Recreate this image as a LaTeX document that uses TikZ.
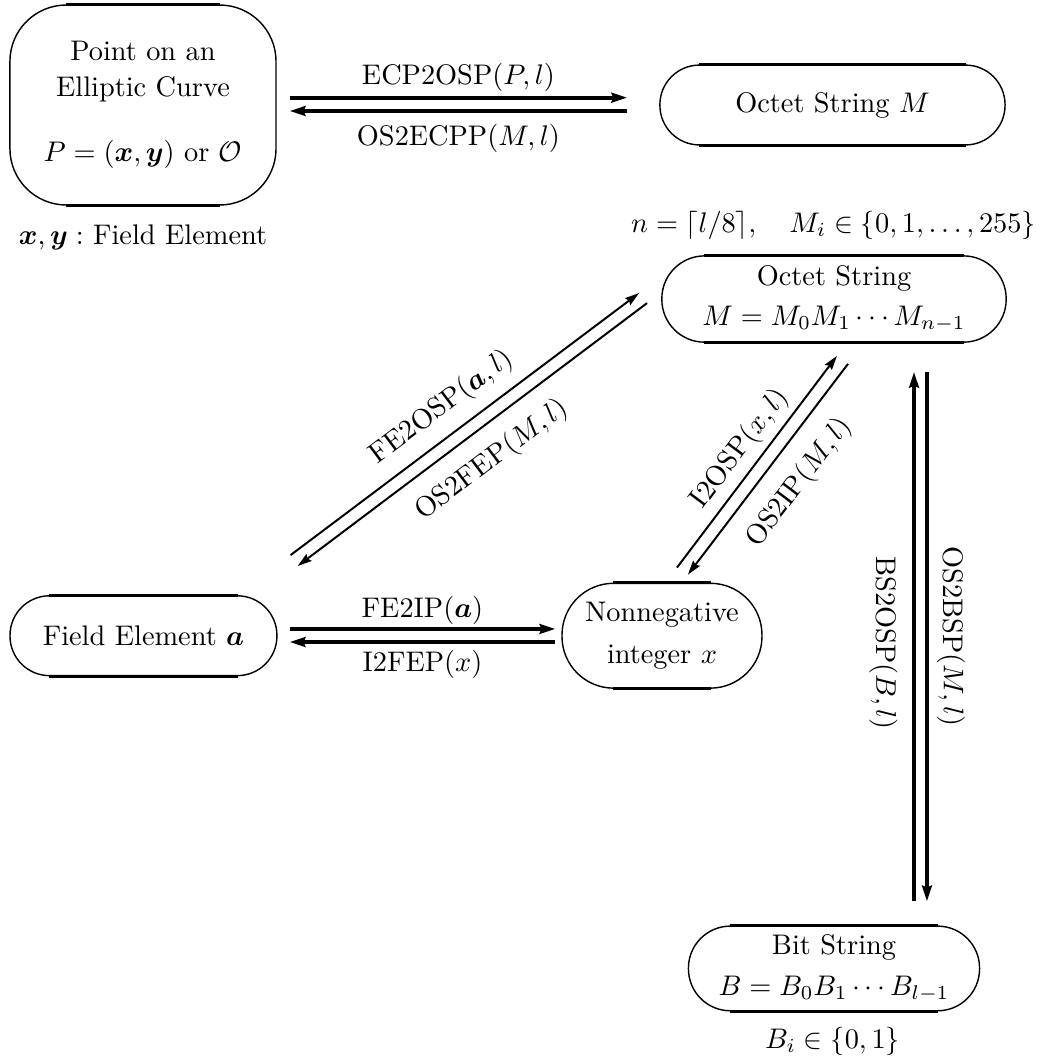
\documentclass[tikz,border=0pt]{standalone}
\usepackage{amsmath}
\usetikzlibrary{arrows.meta}

\begin{document}
\begin{tikzpicture}[
  box/.style={draw,line width=0.5pt,align=center,inner sep=0pt},
  fatarr/.style={line width=1.3pt,>={Stealth[length=5.5pt,width=3.4pt,inset=0.6pt]}},
  thinarr/.style={line width=0.7pt,>={Stealth[length=5pt,width=3pt,inset=0.6pt]}},
  lbl/.style={inner sep=1.5pt}
]

  \useasboundingbox (0,0) rectangle (12.884,-13.132);

  % Boxes
  \node[box,minimum width=3.30cm,minimum height=2.48cm,rounded corners=0.70cm]
    (pt) at (1.773,-1.302)
    {Point on an\\[0.4pt] Elliptic Curve\\[11pt] $P=(\boldsymbol{x},\boldsymbol{y})$ or $\mathcal{O}$};
  \node[box,minimum width=4.28cm,minimum height=0.99cm,rounded corners=0.49cm]
    (os1) at (10.323,-1.302) {Octet String $M$};
  \node[box,minimum width=4.27cm,minimum height=1.07cm,rounded corners=0.53cm]
    (os2) at (10.342,-3.708) {Octet String\\[2.1pt] $M=M_0M_1\cdots M_{n-1}$};
  \node[box,minimum width=3.31cm,minimum height=0.99cm,rounded corners=0.49cm]
    (fe) at (1.779,-7.883) {Field Element $\boldsymbol{a}$};
  \node[box,minimum width=2.48cm,minimum height=1.30cm,rounded corners=0.64cm]
    (ni) at (8.209,-7.883) {Nonnegative\\[2.8pt] integer $x$};
  \node[box,minimum width=3.61cm,minimum height=1.05cm,rounded corners=0.52cm]
    (bs) at (10.342,-12.009) {Bit String\\[2.5pt] $B=B_0B_1\cdots B_{l-1}$};

  % Thick straight edges of the ovals
  \foreach \n/\rad in {pt/0.70,os1/0.49,os2/0.53,fe/0.49,ni/0.64,bs/0.52}{
    \draw[line width=1pt] ([xshift=\rad cm]\n.north west) -- ([xshift=-\rad cm]\n.north east);
    \draw[line width=1pt] ([xshift=\rad cm]\n.south west) -- ([xshift=-\rad cm]\n.south east);
  }

  % Notes
  \node (xy) at (1.773,-2.94) {$\boldsymbol{x},\boldsymbol{y}:$ Field Element};
  \node (nm) at (10.335,-2.796) {$n=\lceil l/8\rceil,\quad M_i\in\{0,1,\ldots,255\}$};
  \node (bi) at (10.323,-12.908) {$B_i\in\{0,1\}$};

  % Point <-> Octet String
  \draw[fatarr,->] ([shift={(0.161,0.091)}]pt.east) -- ([shift={(-0.397,0.091)}]os1.west)
    node[lbl,midway,above] {ECP2OSP$(P,l)$};
  \draw[fatarr,<-] ([shift={(0.161,-0.074)}]pt.east) -- ([shift={(-0.397,-0.074)}]os1.west)
    node[lbl,midway,below=2.4pt] {OS2ECPP$(M,l)$};

  % Field Element <-> Integer
  \draw[fatarr,->] ([shift={(0.149,0.084)}]fe.east) -- ([shift={(-0.074,0.084)}]ni.west)
    node[lbl,midway,above=-0.5pt] {FE2IP$(\boldsymbol{a})$};
  \draw[fatarr,<-] ([shift={(0.149,-0.078)}]fe.east) -- ([shift={(-0.074,-0.078)}]ni.west)
    node[lbl,midway,below=0.6pt] {I2FEP$(x)$};

  % Field Element <-> Octet String
  \draw[thinarr,->] ([shift={(0.161,0.496)}]fe.north east) -- ([shift={(-0.273,0.074)}]os2.west)
    node[lbl,pos=0.48,sloped,above=2.8pt] {FE2OSP$(\boldsymbol{a},l)$};
  \draw[thinarr,<-] ([shift={(0.248,0.360)}]fe.north east) -- ([shift={(-0.174,-0.050)}]os2.west)
    node[lbl,midway,sloped,below=4.5pt] {OS2FEP$(M,l)$};

  % Integer <-> Octet String
  \draw[thinarr,->] ([shift={(0.186,0.186)}]ni.north) -- ([shift={(0.037,-0.161)}]os2.south)
    node[lbl,midway,sloped,above=0.7pt] {I2OSP$(x,l)$};
  \draw[thinarr,<-] ([shift={(0.322,0.099)}]ni.north) -- ([shift={(0.174,-0.260)}]os2.south)
    node[lbl,pos=0.53,sloped,below=4.8pt] {OS2IP$(M,l)$};

  % Bit String <-> Octet String
  \draw[fatarr,->] ([shift={(0.992,0.298)}]bs.north) -- ([shift={(0.992,-0.360)}]os2.south)
    node[lbl,midway,xshift=-0.378cm,yshift=-0.08cm,rotate=-90] {BS2OSP$(B,l)$};
  \draw[fatarr,->] ([shift={(1.153,-0.360)}]os2.south) -- ([shift={(1.153,0.298)}]bs.north)
    node[lbl,midway,xshift=0.298cm,rotate=-90] {OS2BSP$(M,l)$};

\end{tikzpicture}
\end{document}
